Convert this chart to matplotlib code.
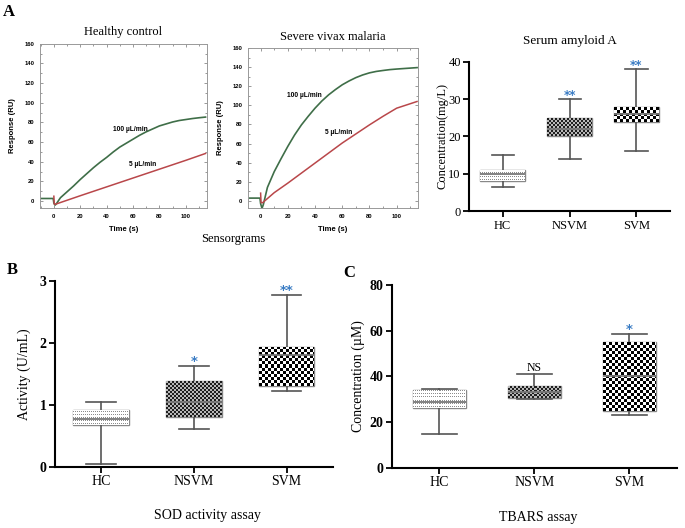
import numpy as np
import matplotlib
matplotlib.use("Agg")
import matplotlib.pyplot as plt
from matplotlib.ticker import MultipleLocator

# ---- sensorgram traces ----
hc_green_t = [-10, -0.5, 0, 1, 2, 5, 10, 15, 20, 25, 30, 35, 40, 45, 50, 55, 60, 65, 70, 75,
              80, 85, 90, 95, 100, 105, 110, 115]
hc_green = [2.7, 2.7, -2, -4, -2.5, 3.5, 9.5, 15.5, 22, 28, 34, 39.5, 44.5, 50, 55, 59, 63, 67, 70.5, 73.5,
            76.5, 78.5, 80.5, 82, 83, 84, 84.8, 85.5]
hc_red_t = [0, 0.3, 1.5, 20, 40, 60, 80, 100, 115]
hc_red = [5, -3, -3, 5.5, 14.5, 23.5, 32.5, 41.5, 48.5]

svm_green_t = [-10, -0.5, 0, 1, 2, 5, 10, 15, 20, 25, 30, 35, 40, 45, 50, 55, 60, 65, 70, 75,
               80, 85, 90, 95, 100, 105, 110, 115]
svm_green = [2.8, 2.8, -3, -8, -4, 14, 30.5, 44, 57, 69, 79.5, 88.5, 97, 104.5, 111, 116.5, 121.5, 125.5, 129, 131.8,
             134, 135.5, 136.5, 137.4, 138, 138.5, 139, 139.5]
svm_red_t = [0, 0.3, 1.5, 10, 20, 30, 40, 50, 60, 70, 80, 90, 100, 115]
svm_red = [8, -2, -2, 8.5, 18.5, 29, 39.5, 50, 60.5, 70, 79.5, 88.5, 97, 104]

# ---- box plot summaries: whisker low, q1, median, q3, whisker high ----
groups = ["HC", "NSVM", "SVM"]
saa_stats = [[6.5, 8, 10, 11, 15], [14, 20, 22, 25, 30], [16, 24, 26, 28, 38]]
saa_marks = ["", "**", "**"]
sod_stats = [[0.05, 0.67, 0.78, 0.92, 1.05], [0.62, 0.8, 1.05, 1.38, 1.63], [1.23, 1.3, 1.8, 1.93, 2.77]]
sod_marks = ["", "*", "**"]
tbars_stats = [[15, 26, 29, 34, 34.5], [30, 30.5, 33, 36, 41], [23, 25, 40, 55, 58.5]]
tbars_marks = ["", "NS", "*"]

plt.rcParams['font.family'] = 'Liberation Serif'
fig = plt.figure(figsize=(6.85, 5.28), dpi=100)

GREEN = "#3f6e48"
RED = "#b9474a"
STAR = "#3a7cc4"


def sensorgram(rect, title, gt, gv, rt, rv, ylim, xlim, lab100, lab5):
    ax = fig.add_axes(rect)
    ax.plot(gt, gv, color=GREEN, lw=1.2)
    ax.plot(rt, rv, color=RED, lw=1.1)
    ax.set_xlim(*xlim)
    ax.set_ylim(*ylim)
    ax.xaxis.set_major_locator(MultipleLocator(20))
    ax.xaxis.set_minor_locator(MultipleLocator(10))
    ax.yaxis.set_major_locator(MultipleLocator(20))
    ax.yaxis.set_minor_locator(MultipleLocator(10))
    ax.tick_params(which='both', direction='in', top=True, right=True,
                   color='#888888', width=0.6, labelsize=4.2, pad=4)
    ax.tick_params(which='major', length=2.5)
    ax.tick_params(which='minor', length=1.5)
    for lab in ax.get_xticklabels() + ax.get_yticklabels():
        lab.set_fontfamily('Liberation Sans')
        lab.set_fontweight('bold')
    for s in ax.spines.values():
        s.set_color('#999999')
        s.set_linewidth(0.7)
    ax.set_xlabel("Time (s)", fontfamily='Liberation Sans', fontweight='bold', fontsize=5.5, labelpad=5)
    ax.set_ylabel("Response (RU)", fontfamily='Liberation Sans', fontweight='bold', fontsize=5.5, labelpad=6)
    ax.set_title(title, fontsize=9, pad=6)
    ax.text(lab100[0], lab100[1], "100 µL/min", fontfamily='Liberation Sans', fontweight='bold',
            fontsize=4.8, ha='center', va='center')
    ax.text(lab5[0], lab5[1], "5 µL/min", fontfamily='Liberation Sans', fontweight='bold',
            fontsize=4.8, ha='center', va='center')
    return ax


def texture(kind, w, h):
    yy, xx = np.mgrid[0:h, 0:w]
    if kind == 'dots':
        arr = np.ones((h, w))
        arr[(yy % 3 == 1) & (xx % 2 == 0)] = 0.55
    elif kind == 'fine':
        arr = np.where(((yy // 2) + (xx // 2)) % 2 == 0, 0.12, 0.72)
    else:
        arr = np.where(((yy // 3) + (xx // 3)) % 2 == 0, 0.0, 1.0)
    return arr


def boxpanel(rect, stats, marks, ylim, ystep, width, capw, ylabel, boldticks, fs, lpad):
    ax = fig.add_axes(rect)
    bx = []
    for i, s in enumerate(stats):
        bx.append(dict(whislo=s[0], q1=s[1], med=s[2], q3=s[3], whishi=s[4], fliers=[], label=groups[i]))
    ax.set_xlim(0.5, 3.5)
    ax.set_ylim(*ylim)
    res = ax.bxp(bx, positions=[1, 2, 3], widths=width, capwidths=capw, patch_artist=True,
                 showfliers=False,
                 boxprops=dict(facecolor='white', edgecolor='#888888', linewidth=1.0),
                 whiskerprops=dict(color='#555555', linewidth=1.2),
                 capprops=dict(color='#555555', linewidth=1.2),
                 medianprops=dict(color='#777777', linewidth=1.3))
    kinds = ['dots', 'fine', 'coarse']
    for i, (patch, s) in enumerate(zip(res['boxes'], stats)):
        x0, x1 = i + 1 - width / 2, i + 1 + width / 2
        p0 = ax.transData.transform((x0, s[1]))
        p1 = ax.transData.transform((x1, s[3]))
        w = max(int(round(p1[0] - p0[0])), 1)
        h = max(int(round(p1[1] - p0[1])), 1)
        im = ax.imshow(texture(kinds[i], w, h), cmap='gray', vmin=0, vmax=1,
                       extent=(x0, x1, s[1], s[3]), origin='lower',
                       interpolation='nearest', aspect='auto', zorder=2.05)
        im.set_clip_path(patch)
    for m in res['medians']:
        m.set_zorder(2.2)
    ax.set_xlim(0.5, 3.5)
    ax.set_ylim(*ylim)
    ax.set_aspect('auto')
    for i, (s, mk) in enumerate(zip(stats, marks)):
        if not mk:
            continue
        off = (ylim[1] - ylim[0]) * 0.035
        if mk == "NS":
            ax.text(i + 1, s[4] + off, mk, ha='center', va='center', fontsize=fs - 1.5, color='black')
        else:
            ax.text(i + 1, s[4] + off * 0.7, mk, ha='center', va='center', fontsize=fs - 0.5,
                    color=STAR, fontweight='bold', fontfamily='DejaVu Sans')
    ax.yaxis.set_major_locator(MultipleLocator(ystep))
    for side in ['top', 'right']:
        ax.spines[side].set_visible(False)
    for side in ['left', 'bottom']:
        ax.spines[side].set_linewidth(1.5)
    ax.tick_params(direction='out', length=4, width=1.3, labelsize=fs, pad=2)
    ax.set_xticks([1, 2, 3])
    ax.set_xticklabels(groups, fontsize=fs)
    if boldticks:
        for lab in ax.get_yticklabels():
            lab.set_fontweight('bold')
    ax.set_ylabel(ylabel, fontsize=fs, labelpad=lpad)
    return ax


sensorgram([0.0584, 0.606, 0.2436, 0.311], "Healthy control",
           hc_green_t, hc_green, hc_red_t, hc_red, (-7, 160), (-10.5, 116),
           (58, 73), (67, 37))
sensorgram([0.362, 0.606, 0.248, 0.303], "Severe vivax malaria",
           svm_green_t, svm_green, svm_red_t, svm_red, (-7.6, 160), (-9.3, 115.6),
           (32, 110), (57, 72))
fig.text(233 / 685, 1 - 239 / 528, "Sensorgrams", fontsize=9, ha='center', va='center')

a3 = boxpanel([0.685, 0.600, 0.293, 0.283], saa_stats, saa_marks, (0, 40), 10, 0.67, 0.33,
              "Concentration(mg/L)", False, 9, 0)
a3.set_title("Serum amyloid A", fontsize=9.5, pad=13)

b = boxpanel([0.080, 0.1155, 0.406, 0.3525], sod_stats, sod_marks, (0, 3), 1, 0.6, 0.32,
             "Activity (U/mL)", True, 10, 6)
fig.text(208 / 685, 1 - 515 / 528, "SOD activity assay", fontsize=10, ha='center', va='center')

c = boxpanel([0.572, 0.114, 0.416, 0.346], tbars_stats, tbars_marks, (0, 80), 20, 0.56, 0.37,
             "Concentration (µM)", True, 10, 3)
fig.text(538 / 685, 1 - 517 / 528, "TBARS assay", fontsize=10, ha='center', va='center')

fig.text(9 / 685, 1 - 12 / 528, "A", fontsize=12, fontweight='bold', ha='center', va='center')
fig.text(12 / 685, 1 - 270 / 528, "B", fontsize=12, fontweight='bold', ha='center', va='center')
fig.text(349 / 685, 1 - 273 / 528, "C", fontsize=12, fontweight='bold', ha='center', va='center')

fig.savefig("out.png", dpi=100)
